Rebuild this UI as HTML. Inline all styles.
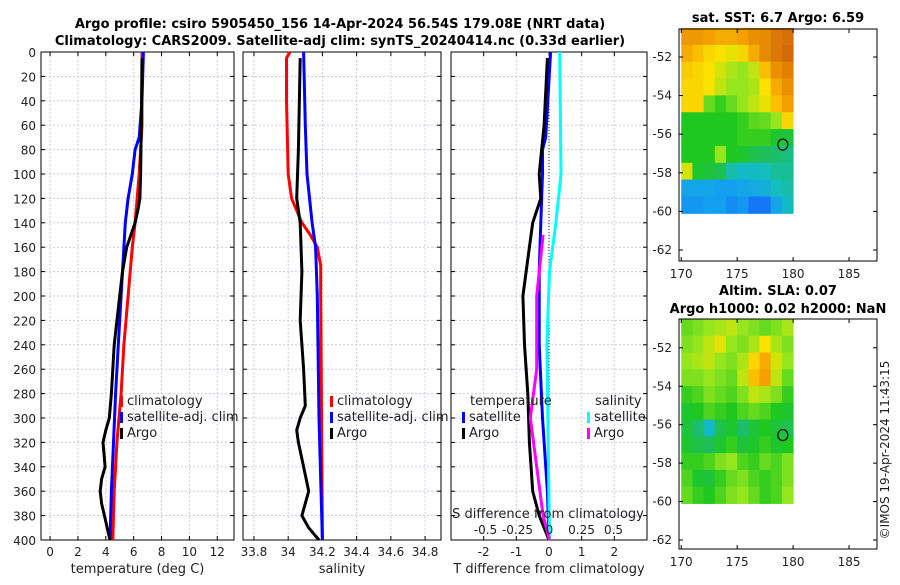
<!DOCTYPE html>
<html><head><meta charset="utf-8"><style>
body{margin:0;background:#fff;width:900px;height:580px;overflow:hidden;font-family:"Liberation Sans","DejaVu Sans",sans-serif}
svg text{font-family:"DejaVu Sans","Liberation Sans",sans-serif}
</style></head><body>
<svg id="fig" width="900" height="580" xmlns="http://www.w3.org/2000/svg">
<text x="340" y="28" font-size="13" font-weight="bold" text-anchor="middle">Argo profile: csiro 5905450_156 14-Apr-2024 56.54S 179.08E (NRT data)</text>
<text x="340" y="45" font-size="13" font-weight="bold" text-anchor="middle">Climatology: CARS2009. Satellite-adj clim: synTS_20240414.nc (0.33d earlier)</text>
<text x="778" y="22" font-size="13" font-weight="bold" text-anchor="middle">sat. SST: 6.7 Argo: 6.59</text>
<text x="778" y="295" font-size="13" font-weight="bold" text-anchor="middle">Altim. SLA: 0.07</text>
<text x="778" y="313" font-size="13" font-weight="bold" text-anchor="middle">Argo h1000: 0.02 h2000: NaN</text>
<text transform="translate(889,450) rotate(-90)" font-size="12" fill="#222" text-anchor="middle">©IMOS 19-Apr-2024 11:43:15</text>
</svg>
<script>
// ---- data ----
const depthTicks=[0,20,40,60,80,100,120,140,160,180,200,220,240,260,280,300,320,340,360,380,400];
const tempTicks=[0,2,4,6,8,10,12];
const salTicks=[33.8,34,34.2,34.4,34.6,34.8];
const tdiffTicks=[-2,-1,0,1,2];
const sdiffTickVals=[-0.5,-0.25,0,0.25,0.5];
const sdiffTickLabels=["-0.5","-0.25","0","0.25","0.5"];
const tArgoDepth=[5,60,100,120,130,140,150,160,180,200,240,280,300,310,320,340,350,360,370,380,390,400];
const tArgoVal=[6.6,6.55,6.5,6.45,6.3,6.1,5.8,5.5,5.2,5.0,4.6,4.4,4.25,4.0,3.8,3.95,3.7,3.6,3.7,3.9,4.1,4.3];
const tClimDepth=[0,60,100,140,160,200,240,280,320,360,400];
const tClimVal=[6.6,6.6,6.4,6.1,5.9,5.6,5.3,5.1,4.8,4.6,4.5];
const tSatDepth=[0,40,70,80,100,120,140,160,200,240,280,320,360,400];
const tSatVal=[6.7,6.6,6.4,6.1,5.9,5.6,5.4,5.3,5.1,4.9,4.7,4.55,4.4,4.3];
const sClimDepth=[0,5,40,100,120,140,150,160,175,200,400];
const sClimVal=[34.01,33.99,33.99,34.0,34.02,34.08,34.13,34.17,34.19,34.19,34.2];
const sSatDepth=[0,60,100,140,160,200,300,400];
const sSatVal=[34.09,34.1,34.11,34.14,34.16,34.17,34.18,34.2];
const sArgoDepth=[5,80,120,140,180,220,260,290,300,310,320,340,360,380,390,400];
const sArgoVal=[34.07,34.06,34.05,34.07,34.08,34.07,34.09,34.1,34.07,34.05,34.06,34.09,34.12,34.08,34.12,34.18];
const dTArgoDepth=[5,60,100,120,140,160,200,240,280,320,360,380,400];
const dTArgoVal=[-0.05,-0.15,-0.3,-0.25,-0.5,-0.6,-0.8,-0.75,-0.65,-0.6,-0.5,-0.3,0];
const dTSatDepth=[0,70,80,100,140,180,240,300,360,400];
const dTSatVal=[0.05,-0.1,-0.2,-0.2,-0.25,-0.3,-0.3,-0.2,-0.05,0];
const dSSatDepth=[0,100,140,180,240,400];
const dSSatVal=[0.08,0.09,0.05,0.0,-0.02,0.0];
const dSArgoDepth=[150,200,260,300,340,380,400];
const dSArgoVal=[-0.05,-0.1,-0.1,-0.15,-0.1,-0.05,0];
const lonTicks=[170,175,180,185];
const latTicks=[-52,-54,-56,-58,-60,-62];
// SST grid rows from north (-50.5) to south (-60.1), cols 170..180 (value 0..1 colormap)
const sstGrid=[
[0.84,0.84,0.82,0.80,0.80,0.82,0.86,0.88,0.92,0.94],
[0.80,0.76,0.72,0.70,0.68,0.72,0.80,0.88,0.92,0.96],
[0.74,0.72,0.70,0.66,0.62,0.60,0.64,0.76,0.86,0.90],
[0.72,0.72,0.70,0.64,0.60,0.60,0.62,0.70,0.80,0.86],
[0.72,0.72,0.56,0.52,0.56,0.60,0.64,0.68,0.76,0.82],
[0.50,0.50,0.50,0.50,0.50,0.52,0.55,0.56,0.60,0.72],
[0.50,0.50,0.50,0.50,0.50,0.52,0.52,0.52,0.48,0.46],
[0.50,0.50,0.50,0.60,0.50,0.48,0.44,0.42,0.40,0.38],
[0.66,0.48,0.46,0.44,0.34,0.30,0.30,0.32,0.36,0.36],
[0.22,0.22,0.22,0.20,0.20,0.22,0.24,0.26,0.32,0.34],
[0.18,0.18,0.20,0.20,0.16,0.18,0.12,0.12,0.22,0.30]];
const slaGrid=[
[0.56,0.58,0.60,0.62,0.64,0.60,0.58,0.56,0.58,0.62],
[0.58,0.60,0.64,0.68,0.60,0.58,0.62,0.70,0.62,0.58],
[0.60,0.62,0.64,0.60,0.58,0.62,0.72,0.80,0.66,0.60],
[0.58,0.58,0.60,0.58,0.56,0.64,0.76,0.82,0.64,0.56],
[0.52,0.54,0.58,0.56,0.54,0.58,0.64,0.62,0.58,0.52],
[0.48,0.50,0.54,0.52,0.50,0.54,0.56,0.54,0.50,0.48],
[0.46,0.40,0.30,0.44,0.48,0.40,0.46,0.50,0.46,0.44],
[0.48,0.44,0.42,0.48,0.52,0.46,0.48,0.52,0.48,0.50],
[0.52,0.52,0.54,0.58,0.60,0.54,0.52,0.56,0.54,0.58],
[0.54,0.48,0.46,0.52,0.56,0.58,0.54,0.52,0.54,0.58],
[0.56,0.52,0.50,0.54,0.58,0.60,0.56,0.52,0.54,0.60]];
const argoLon=[179.08], argoLat=[-56.54];

const NS="http://www.w3.org/2000/svg", svg=document.getElementById('fig');
function el(t,a,p){const e=document.createElementNS(NS,t);for(const k in a)e.setAttribute(k,a[k]);(p||svg).appendChild(e);return e;}
const Y0=52,Y1=540;
const yD=d=>Y0+(d/400)*(Y1-Y0);

function panel(name,x0,x1,vmin,vmax,ticks,labels,xlabel){
  const g=el('g',{});
  
  
  const sx=v=>x0+(v-vmin)/(vmax-vmin)*(x1-x0);
  el('rect',{x:x0,y:Y0,width:x1-x0,height:Y1-Y0,fill:'#fff'},g);
  ticks.forEach((t,i)=>{const x=sx(t);
    el('line',{x1:x,x2:x,y1:Y0,y2:Y1,stroke:'#c8cbe6','stroke-dasharray':'2,2','stroke-width':1},g);
    el('line',{x1:x,x2:x,y1:Y1,y2:Y1-4,stroke:'#000'},g);
    el('line',{x1:x,x2:x,y1:Y0,y2:Y0+4,stroke:'#000'},g);
    const tx=el('text',{x:x,y:Y1+16,'font-size':12,'text-anchor':'middle',fill:'#222'},g);tx.textContent=labels?labels[i]:t;});
  depthTicks.forEach(d=>{const y=yD(d);
    el('line',{x1:x0,x2:x1,y1:y,y2:y,stroke:'#c8cbe6','stroke-dasharray':'2,2'},g);
    el('line',{x1:x0,x2:x0+4,y1:y,y2:y,stroke:'#000'},g);
    el('line',{x1:x1,x2:x1-4,y1:y,y2:y,stroke:'#000'},g);});
  el('rect',{x:x0,y:Y0,width:x1-x0,height:Y1-Y0,fill:'none',stroke:'#000','stroke-width':1},g);
  if(xlabel){const t=el('text',{x:(x0+x1)/2,y:Y1+33,'font-size':13,'text-anchor':'middle',fill:'#222'},g);t.textContent=xlabel;}
  return {g,sx};
}
function line(p,ds,vs,color,name,w){
  const pts=ds.map((d,i)=>p.sx(vs[i]).toFixed(1)+','+yD(d).toFixed(1)).join(' ');
  const pl=el('polyline',{points:pts,fill:'none',stroke:color,'stroke-width':w||3,'stroke-linejoin':'round'},p.g);
  
  
}
function legend(g,x,y,items){
  items.forEach((it,i)=>{
    el('rect',{x:x,y:y+i*16-9,width:3,height:11,fill:it[1]},g);
    const t=el('text',{x:x+7,y:y+i*16,'font-size':13,fill:'#222'},g);t.textContent=it[0];
    
    
  });
}
depthTicks.forEach(d=>{const t=el('text',{x:36,y:yD(d)+5,'font-size':12,'text-anchor':'end',fill:'#222'});t.textContent=d;
  
  });

const p1=panel('temperature-panel',41,234,-0.65,13.2,tempTicks,null,'temperature (deg C)');
line(p1,tClimDepth,tClimVal,'#f00','climatology-temp-line');
line(p1,tSatDepth,tSatVal,'#00f','satellite-temp-line');
line(p1,tArgoDepth,tArgoVal,'#000','argo-temp-line');
legend(p1.g,120,405,[['climatology','#f00'],['satellite-adj. clim','#00f'],['Argo','#000']]);

const p2=panel('salinity-panel',243,441,33.736,34.893,salTicks,null,'salinity');
line(p2,sClimDepth,sClimVal,'#f00','climatology-sal-line');
line(p2,sSatDepth,sSatVal,'#00f','satellite-sal-line');
line(p2,sArgoDepth,sArgoVal,'#000','argo-sal-line');
legend(p2.g,330,405,[['climatology','#f00'],['satellite-adj. clim','#00f'],['Argo','#000']]);

const p3=panel('difference-panel',451,647,-3,3,tdiffTicks,null,'T difference from climatology');
el('line',{x1:p3.sx(0),x2:p3.sx(0),y1:Y0,y2:Y1,stroke:'#333','stroke-dasharray':'1,2'},p3.g);
const p3s={g:p3.g,sx:v=>549.5+v*128};
line(p3,dTSatDepth,dTSatVal,'#00f','satellite-tdiff-line');
line(p3,dTArgoDepth,dTArgoVal,'#000','argo-tdiff-line');
line(p3s,dSSatDepth,dSSatVal,'#0ff','satellite-sdiff-line');
line(p3s,dSArgoDepth,dSArgoVal,'#f0f','argo-sdiff-line');
{const t=el('text',{x:470,y:405,'font-size':13,fill:'#222'},p3.g);t.textContent='temperature';
 const t2=el('text',{x:595,y:405,'font-size':13,fill:'#222'},p3.g);t2.textContent='salinity';}
legend(p3.g,462,421,[['satellite','#00f'],['Argo','#000']]);
legend(p3.g,587,421,[['satellite','#0ff'],['Argo','#f0f']]);
{const t=el('text',{x:548,y:518,'font-size':13,'text-anchor':'middle',fill:'#222'},p3.g);t.textContent='S difference from climatology';}
sdiffTickVals.forEach((v,i)=>{const t=el('text',{x:p3s.sx(v),y:534,'font-size':12,'text-anchor':'middle',fill:'#222'},p3.g);t.textContent=sdiffTickLabels[i];});

const cStops=[[0,[20,60,255]],[0.2,[20,160,240]],[0.32,[20,190,190]],[0.42,[30,190,90]],[0.5,[30,200,30]],[0.6,[150,230,30]],[0.7,[250,225,0]],[0.82,[245,160,0]],[1,[200,90,10]]];
function cmap(v){
  v=Math.max(0,Math.min(1,v));
  for(let i=1;i<cStops.length;i++){if(v<=cStops[i][0]){const a=cStops[i-1],b=cStops[i],f=(v-a[0])/(b[0]-a[0]);
    return 'rgb('+a[1].map((c,k)=>Math.round(c+(b[1][k]-c)*f)).join(',')+')';}}
  return 'rgb(200,90,10)';
}
function map(name,x0,x1,y0,y1,lon0,lon1,lat0,lat1,grid){
  const g=el('g',{});
  
  
  const sx=v=>x0+(v-lon0)/(lon1-lon0)*(x1-x0), sy=v=>y0+(lat0-v)/(lat0-lat1)*(y1-y0);
  const rows=grid.length,cols=grid[0].length,la0=-50.5,la1=-60.1;
  grid.forEach((row,i)=>row.forEach((v,j)=>{
    const xa=sx(170+j*10/cols),xb=sx(170+(j+1)*10/cols),ya=sy(la0+(la1-la0)*i/rows),yb=sy(la0+(la1-la0)*(i+1)/rows);
    const c=el('rect',{x:xa,y:ya,width:xb-xa+0.5,height:yb-ya+0.5,fill:cmap(v)},g);
    
    
  }));
  el('rect',{x:x0,y:y0,width:x1-x0,height:y1-y0,fill:'none',stroke:'#000'},g);
  lonTicks.forEach(l=>{const x=sx(l);el('line',{x1:x,x2:x,y1:y1,y2:y1-4,stroke:'#000'},g);el('line',{x1:x,x2:x,y1:y0,y2:y0+4,stroke:'#000'},g);
    const t=el('text',{x:x,y:y1+17,'font-size':12,'text-anchor':'middle',fill:'#222'},g);t.textContent=l;});
  latTicks.forEach(l=>{const y=sy(l);el('line',{x1:x0,x2:x0+4,y1:y,y2:y,stroke:'#000'},g);el('line',{x1:x1,x2:x1-4,y1:y,y2:y,stroke:'#000'},g);
    const t=el('text',{x:x0-7,y:y+4,'font-size':12,'text-anchor':'end',fill:'#222'},g);t.textContent=l;});
  const m=el('ellipse',{cx:sx(argoLon[0]),cy:sy(argoLat[0]),rx:5,ry:5.5,fill:'none',stroke:'#000','stroke-width':1.2},g);
  
  
}
map('sst-map',679,877,29,261,169.8,187.5,-50.55,-62.57,sstGrid);
map('sla-map',679,877,319,549,169.8,187.5,-50.5,-62.47,slaGrid);
</script>
</body></html>
